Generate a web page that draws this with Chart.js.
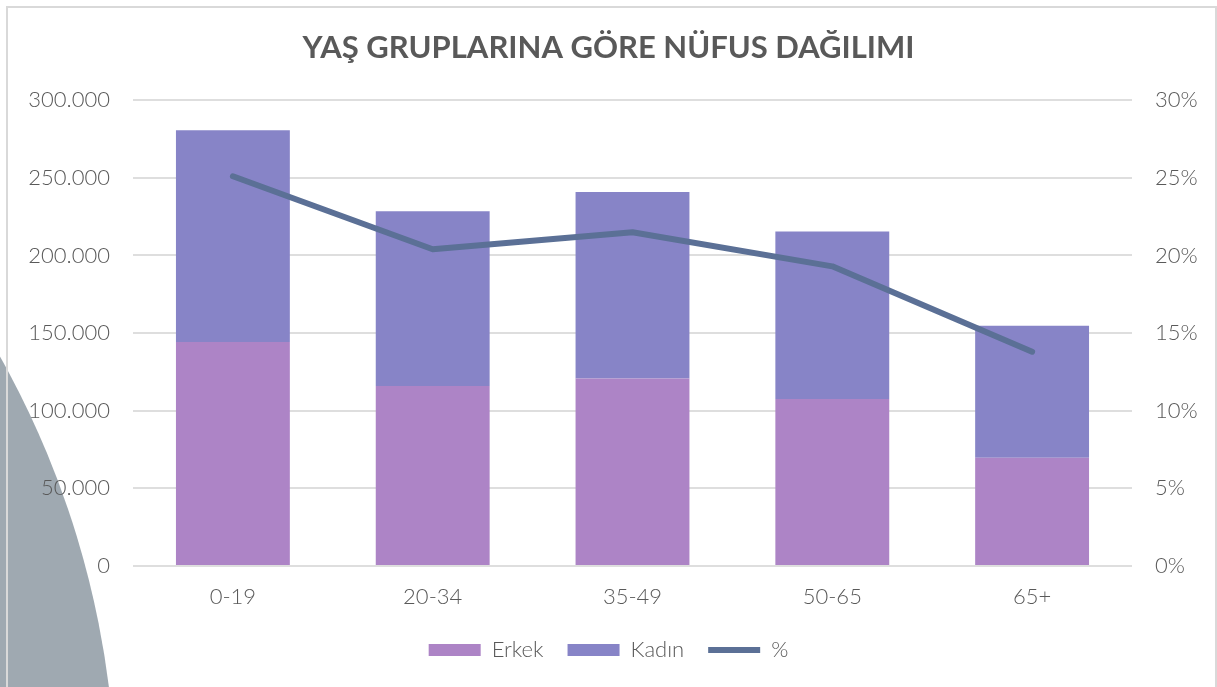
<!DOCTYPE html>
<html lang="tr">
<head>
<meta charset="utf-8">
<title>Yaş gruplarına göre nüfus dağılımı</title>
<script src="https://cdn.jsdelivr.net/npm/chart.js@4/dist/chart.umd.min.js"></script>
<style>
  html, body { margin: 0; padding: 0; background: #fff; overflow: hidden; }
  #sahne { position: relative; width: 1217px; height: 687px; overflow: hidden; }
  /* slayt arka planındaki gri daire */
  #daire { position: absolute; left: -1696px; top: -106px; width: 1812px; height: 1812px;
           border-radius: 50%; background: #9fa9b1; }
  #cerceve { position: absolute; left: 6px; top: 6px; width: 1211px; height: 684px;
             box-sizing: border-box; border: 2px solid #d9d9d9; }
  #grafik { position: absolute; left: 0; top: 0; }
</style>
</head>
<body>
<div id="sahne">
  <div id="daire"></div>
  <div id="cerceve"></div>
  <canvas id="grafik" width="1217" height="687"></canvas>
</div>
<script>
// Veriler
const yasGruplari = ['0-19', '20-34', '35-49', '50-65', '65+'];
const erkek = [144200, 116000, 120800, 107500, 69700];
const kadin = [136500, 112500, 120000, 108000, 85000];
const yuzde = [25.1, 20.4, 21.5, 19.3, 13.8];
const solEksenMax = 300000;
const sagEksenMax = 30;

const yazi = "'Century Gothic', 'Lato', 'Open Sans', sans-serif";
const griYazi = '#595959';
const tickFont = { family: yazi, size: 22, weight: 300 };

const binlik = (v) => String(v).replace(/\B(?=(\d{3})+(?!\d))/g, '.');

new Chart(document.getElementById('grafik'), {
  data: {
    labels: yasGruplari,
    datasets: [
      { type: 'bar', label: 'Erkek', data: erkek, yAxisID: 'y', order: 1,
        backgroundColor: '#ad84c6', pointStyle: 'rect', barPercentage: 0.57, categoryPercentage: 1 },
      { type: 'bar', label: 'Kadın', data: kadin, yAxisID: 'y', order: 1,
        backgroundColor: '#8784c7', pointStyle: 'rect', barPercentage: 0.57, categoryPercentage: 1 },
      { type: 'line', label: '%', data: yuzde, yAxisID: 'y1', order: 0,
        borderColor: '#5b7096', backgroundColor: '#5b7096', borderWidth: 6,
        borderCapStyle: 'round', borderJoinStyle: 'round', pointRadius: 0, pointStyle: 'line', tension: 0 },
    ],
  },
  options: {
    responsive: false,
    animation: false,
    layout: { padding: { left: 0, right: 0, top: 0, bottom: 16 } },
    plugins: {
      title: { display: true, text: 'YAŞ GRUPLARINA GÖRE NÜFUS DAĞILIMI', color: griYazi,
        font: { family: yazi, size: 31, weight: 'bold' }, padding: { top: 29, bottom: 34 } },
      legend: { position: 'bottom',
        labels: { usePointStyle: true, pointStyleWidth: 52, boxHeight: 12, color: griYazi, padding: 24,
          font: { family: yazi, size: 22, weight: 300 },
          sort: (a, b) => a.datasetIndex - b.datasetIndex } },
      tooltip: { enabled: false },
    },
    scales: {
      x: { stacked: true, grid: { display: false, drawTicks: false }, border: { display: false },
        ticks: { color: griYazi, padding: 18, font: tickFont },
        afterFit: (s) => { s.height = 49; } },
      y: { stacked: true, position: 'left', min: 0, max: solEksenMax,
        grid: { color: '#dedede', lineWidth: 2, drawTicks: false }, border: { display: false },
        ticks: { stepSize: 50000, color: griYazi, padding: 23, callback: binlik, font: tickFont },
        afterFit: (s) => { s.width = 133; } },
      y1: { position: 'right', min: 0, max: sagEksenMax,
        grid: { display: false, drawTicks: false }, border: { display: false },
        ticks: { stepSize: 5, color: griYazi, padding: 23, callback: (v) => v + '%', font: tickFont },
        afterFit: (s) => { s.width = 85; } },
    },
  },
});
</script>
</body>
</html>
